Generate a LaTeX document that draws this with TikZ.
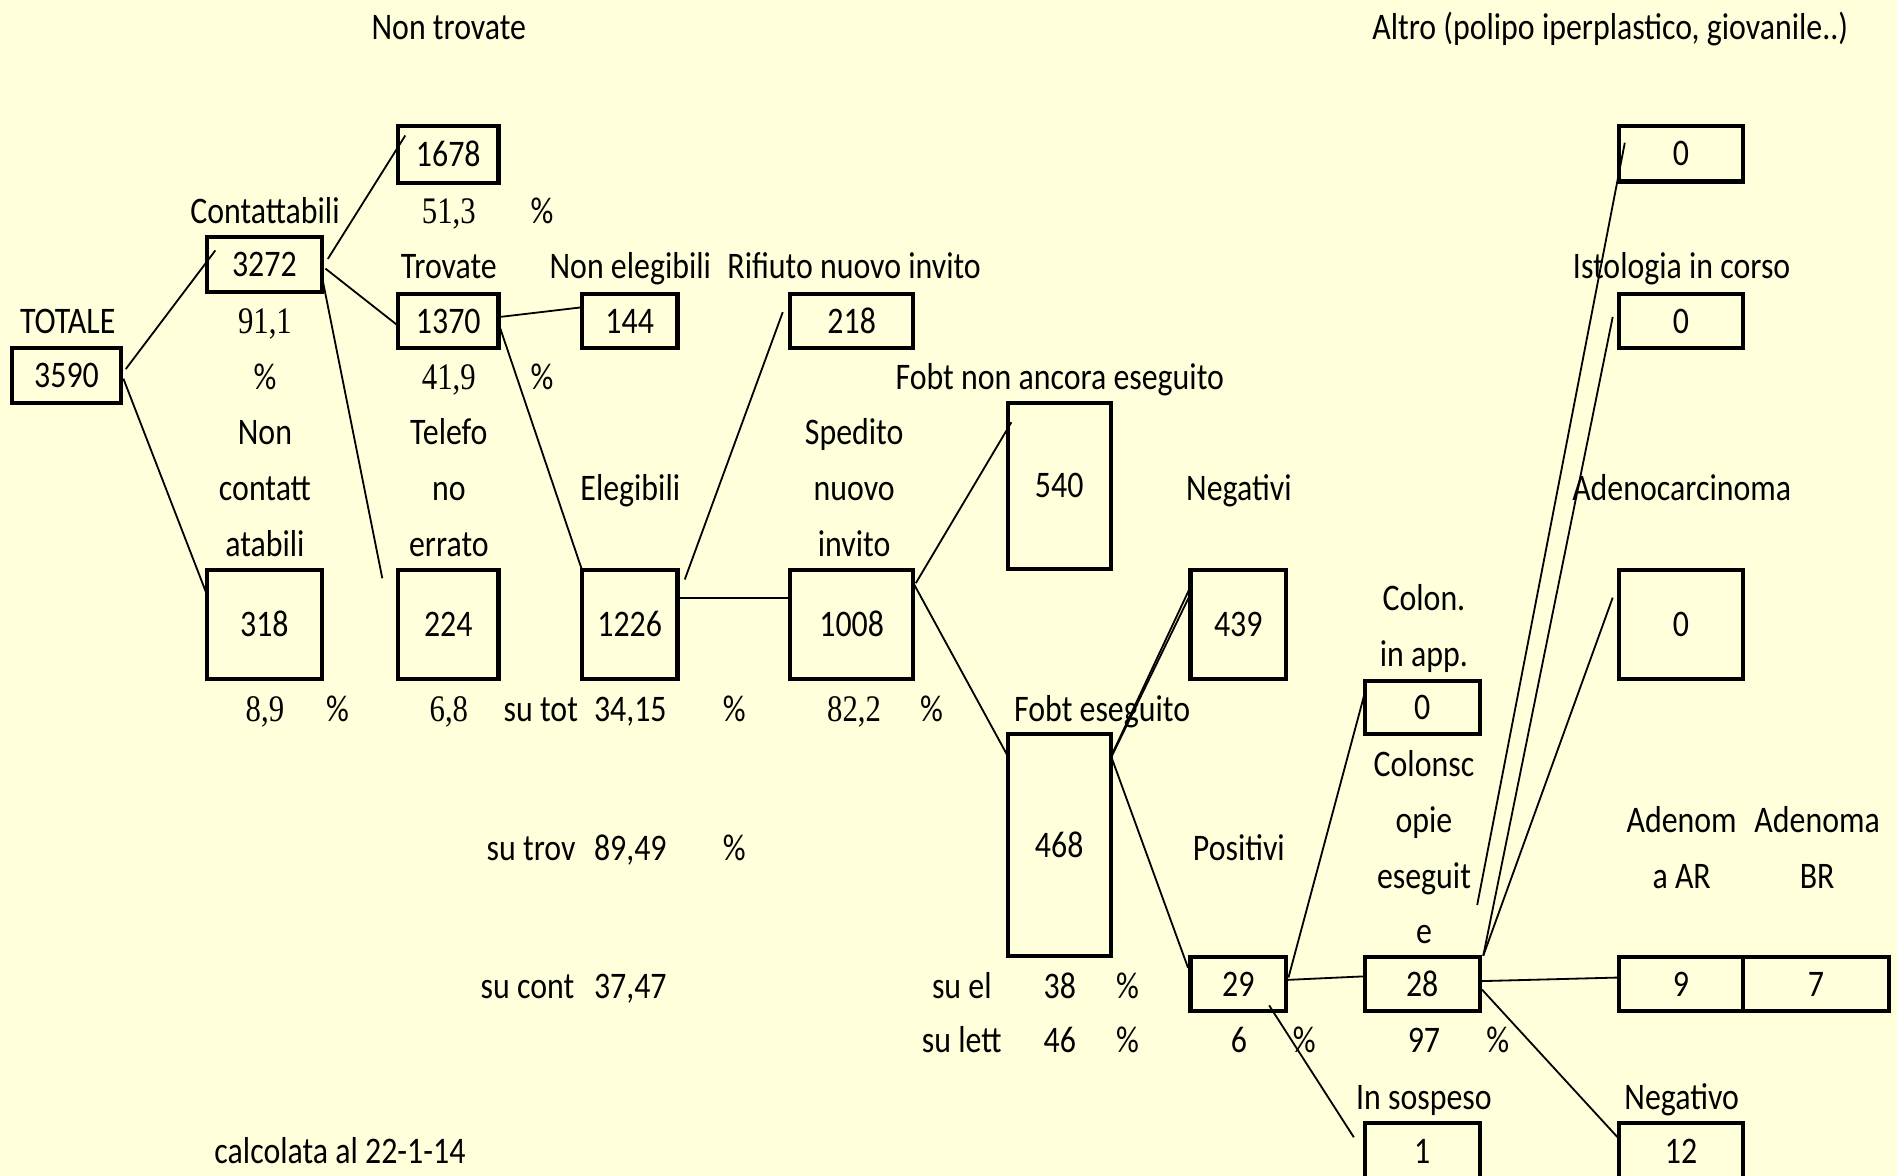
\documentclass[tikz,border=0pt]{standalone}
\usepackage{fontspec}
\setmainfont{Carlito}[FakeStretch=0.85]
\newfontfamily\numserif{Liberation Serif}[FakeStretch=0.82]
\usetikzlibrary{fit}
\definecolor{bg}{RGB}{255,255,220}
\begin{document}
\begin{tikzpicture}[x=0.5pt,y=-0.5pt,
  every node/.style={font=\fontsize{15.5}{18}\selectfont},
  box/.style={draw, line width=1.7pt, inner sep=0pt, label={[inner sep=0pt, anchor=center]center:#1}},
  lbl/.style={anchor=base, inner sep=0pt},
  snum/.style={anchor=base, inner sep=0pt, font=\fontsize{15.5}{18}\selectfont\numserif},
  conn/.style={line width=0.75pt}]
\fill[bg] (0,0) rectangle (1568,972);
\useasboundingbox (0,0) rectangle (1568,972);

% ---------- boxes ----------
\node[box=1678, fit={(329,104) (412,151)}] (b1678) {};
\node[box=3272, fit={(171,196) (266,241)}] (b3272) {};
\node[box=1370, fit={(329,243) (412,288)}] (b1370) {};
\node[box=144, fit={(481,243) (560,288)}] (b144) {};
\node[box=218, fit={(653,243) (755,288)}] (b218) {};
\node[box=0, fit={(1338,104) (1441,150)}] (bAltro) {};
\node[box=0, fit={(1338,243) (1441,288)}] (bIsto) {};
\node[box=3590, fit={(10,288) (100,333)}] (b3590) {};
\node[box=540, fit={(833,333) (918,470)}] (b540) {};
\node[box=318, fit={(171,471) (266,561)}] (b318) {};
\node[box=224, fit={(329,471) (412,561)}] (b224) {};
\node[box=1226, fit={(481,471) (560,561)}] (b1226) {};
\node[box=1008, fit={(653,471) (755,561)}] (b1008) {};
\node[box=439, fit={(984,471) (1063,561)}] (b439) {};
\node[box=0, fit={(1338,471) (1441,561)}] (bAdeno) {};
\node[box=0, fit={(1128,563) (1223,607)}] (bColApp) {};
\node[box=468, fit={(833,607) (918,790)}] (b468) {};
\node[box=29, fit={(984,791) (1063,836)}] (b29) {};
\node[box=28, fit={(1128,791) (1223,836)}] (b28) {};
\node[box=9, fit={(1338,791) (1441,836)}] (b9) {};
\node[box=7, fit={(1441,791) (1561,836)}] (b7) {};
\node[box=1, fit={(1128,928) (1223,976)}] (b1) {};
\node[box=12, fit={(1338,928) (1441,976)}] (b12) {};

% ---------- labels ----------
\node[lbl] (tNonTrov) at (371,33) {Non trovate};
\node[lbl] (tAltro) at (1331,33) {Altro (polipo iperplastico, giovanile..)};
\node[snum] (p513) at (371,185) {51,3};
\node[lbl] (pc1) at (448,185) {\%};
\node[lbl] (tCont) at (219,185) {Contattabili};
\node[lbl] (tTrov) at (371,230) {Trovate};
\node[lbl] (tNonEl) at (521,230) {Non elegibili};
\node[lbl] (tRif) at (706,230) {Rifiuto nuovo invito};
\node[lbl] (tIsto) at (1390,230) {Istologia in corso};
\node[lbl] (tTot) at (56,276) {TOTALE};
\node[snum] (p911) at (219,276) {91,1};
\node[lbl] (pc2) at (219,322) {\%};
\node[snum] (p419) at (371,322) {41,9};
\node[lbl] (pc3) at (448,322) {\%};
\node[lbl] (tFobtNon) at (876,322) {Fobt non ancora eseguito};
\node[lbl] (tNon) at (219,367) {Non};
\node[lbl] (tTel) at (371,367) {Telefo};
\node[lbl] (tSped) at (706,367) {Spedito};
\node[lbl] (tContatt) at (219,414) {contatt};
\node[lbl] (tNo) at (371,414) {no};
\node[lbl] (tEleg) at (521,414) {Elegibili};
\node[lbl] (tNuovo) at (706,414) {nuovo};
\node[lbl] (tNegativi) at (1024,414) {Negativi};
\node[lbl] (tAdeno) at (1390,414) {Adenocarcinoma};
\node[lbl] (tAtab) at (219,460) {atabili};
\node[lbl] (tErr) at (371,460) {errato};
\node[lbl] (tInvito) at (706,460) {invito};
\node[lbl] (tColon) at (1177,505) {Colon.};
\node[lbl] (tInApp) at (1177,551) {in app.};
\node[snum] (p89) at (219,596) {8,9};
\node[lbl] (pc4) at (279,596) {\%};
\node[snum] (p68) at (371,596) {6,8};
\node[lbl] (tSuTot) at (447,596) {su tot};
\node[lbl] (p3415) at (521,596) {34,15};
\node[lbl] (pc5) at (607,596) {\%};
\node[snum] (p822) at (706,596) {82,2};
\node[lbl] (pc6) at (770,596) {\%};
\node[lbl] (tFobtEs) at (911,596) {Fobt eseguito};
\node[lbl] (tColonsc) at (1177,642) {Colonsc};
\node[lbl] (tOpie) at (1177,688) {opie};
\node[lbl] (tAdenom) at (1390,688) {Adenom};
\node[lbl] (tAdenoma) at (1502,688) {Adenoma};
\node[lbl] (tPos) at (1024,711) {Positivi};
\node[lbl] (tSuTrov) at (439,711) {su trov};
\node[lbl] (p8949) at (521,711) {89,49};
\node[lbl] (pc7) at (607,711) {\%};
\node[lbl] (tEseguit) at (1177,734) {eseguit};
\node[lbl] (tAAR) at (1390,734) {a AR};
\node[lbl] (tBR) at (1502,734) {BR};
\node[lbl] (tE) at (1177,780) {e};
\node[lbl] (tSuCont) at (436,825) {su cont};
\node[lbl] (p3747) at (521,825) {37,47};
\node[lbl] (tSuEl) at (795,825) {su el};
\node[lbl] (p38) at (876,825) {38};
\node[lbl] (pc8) at (932,825) {\%};
\node[lbl] (tSuLett) at (795,870) {su lett};
\node[lbl] (p46) at (876,870) {46};
\node[lbl] (pc9) at (932,870) {\%};
\node[lbl] (p6) at (1024,870) {6};
\node[lbl] (pc10) at (1078,870) {\%};
\node[lbl] (p97) at (1177,870) {97};
\node[lbl] (pc11) at (1238,870) {\%};
\node[lbl] (tSosp) at (1177,917) {In sospeso};
\node[lbl] (tNegativo) at (1390,917) {Negativo};
\node[lbl] (tCalc) at (281,962) {calcolata al 22-1-14};

% ---------- connector end points ----------
\coordinate (a1) at (104,305);   \coordinate (a2) at (178,207);
\coordinate (c1) at (102,313);   \coordinate (c2) at (172,494);
\coordinate (d1) at (271,214);   \coordinate (d2) at (335,112);
\coordinate (e1) at (269,222);   \coordinate (e2) at (330,270);
\coordinate (f1) at (266,228);   \coordinate (f2) at (316,478);
\coordinate (g1) at (413,262);   \coordinate (g2) at (481,254);
\coordinate (h1) at (413,270);   \coordinate (h2) at (481,471);
\coordinate (i1) at (566,479);   \coordinate (i2) at (647,258);
\coordinate (j1) at (560,494);   \coordinate (j2) at (653,494);
\coordinate (k1) at (757,482);   \coordinate (k2) at (836,349);
\coordinate (l1) at (755,482);   \coordinate (l2) at (833,625);
\coordinate (m1) at (918,626);   \coordinate (m2) at (984,485);
\coordinate (m3) at (918,627);   \coordinate (m4) at (984,491);
\coordinate (n1) at (918,624);   \coordinate (n2) at (982,800);
\coordinate (o1) at (1065,808);  \coordinate (o2) at (1128,573);
\coordinate (q1) at (1063,810);  \coordinate (q2) at (1128,807);
\coordinate (r1) at (1049,831);  \coordinate (r2) at (1119,940);
\coordinate (s1) at (1223,811);  \coordinate (s2) at (1338,808);
\coordinate (u1) at (1225,818);  \coordinate (u2) at (1337,940);
\coordinate (v1) at (1226,790);  \coordinate (v2) at (1333,494);
\coordinate (w1) at (1226,790);  \coordinate (w2) at (1333,262);
\coordinate (z1) at (1221,748);  \coordinate (z2) at (1343,118);

% ---------- connectors ----------
\draw[conn] (a1) -- (a2);
\draw[conn] (c1) -- (c2);
\draw[conn] (d1) -- (d2);
\draw[conn] (e1) -- (e2);
\draw[conn] (f1) -- (f2);
\draw[conn] (g1) -- (g2);
\draw[conn] (h1) -- (h2);
\draw[conn] (i1) -- (i2);
\draw[conn] (j1) -- (j2);
\draw[conn] (k1) -- (k2);
\draw[conn] (l1) -- (l2);
\draw[conn] (m1) -- (m2);
\draw[conn] (m3) -- (m4);
\draw[conn] (n1) -- (n2);
\draw[conn] (o1) -- (o2);
\draw[conn] (q1) -- (q2);
\draw[conn] (r1) -- (r2);
\draw[conn] (s1) -- (s2);
\draw[conn] (u1) -- (u2);
\draw[conn] (v1) -- (v2);
\draw[conn] (w1) -- (w2);
\draw[conn] (z1) -- (z2);
\end{tikzpicture}
\end{document}
